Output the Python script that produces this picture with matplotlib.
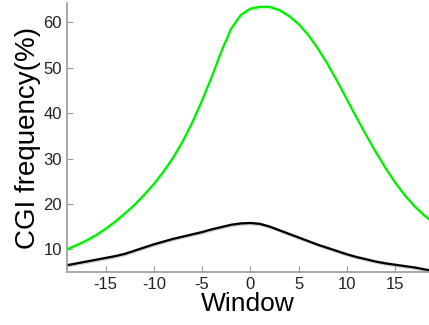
import matplotlib
matplotlib.use("Agg")
import numpy as np
import matplotlib.pyplot as plt

plt.rcParams['font.family'] = ['Liberation Sans', 'DejaVu Sans']

# window positions
window = list(range(-19, 20))

# CGI frequency (%) - green series
green = [10.0, 10.9, 11.9, 13.1, 14.5, 16.1, 17.9, 19.8, 22.0, 24.4,
         27.1, 30.2, 33.8, 38.0, 42.8, 48.0, 53.6, 58.6, 61.6, 63.0,
         63.4, 63.4, 62.7, 61.4, 59.6, 57.2, 54.2, 50.8, 47.0, 43.0,
         39.0, 35.1, 31.4, 27.9, 24.7, 21.9, 19.5, 17.5, 15.8]

# CGI frequency (%) - black series
black = [6.5, 6.9, 7.3, 7.7, 8.1, 8.5, 9.0, 9.7, 10.4, 11.1,
         11.7, 12.3, 12.8, 13.3, 13.8, 14.4, 14.9, 15.4, 15.7, 15.8,
         15.6, 15.0, 14.2, 13.4, 12.6, 11.8, 11.0, 10.3, 9.6, 8.9,
         8.3, 7.8, 7.3, 6.9, 6.6, 6.3, 6.0, 5.6, 5.2]

xticks = [-15, -10, -5, 0, 5, 10, 15]
yticks = [10, 20, 30, 40, 50, 60]

fig = plt.figure(figsize=(4.29, 3.25), dpi=100)
ax = fig.add_axes([0.156, 0.163, 0.844, 0.827])

x = np.array(window)
g = np.array(green)
b = np.array(black)

# thin error bands
ax.fill_between(x, g - 0.5, g + 0.5, color='#00ff00', alpha=0.2, lw=0)
ax.fill_between(x, b - 0.4, b + 0.4, color='black', alpha=0.2, lw=0)
ax.plot(x, g, color='#00ee00', lw=1.6)
ax.plot(x, b, color='black', lw=1.6)

ax.set_xlim(-19, 18.5)
ax.set_ylim(5, 64.2)
ax.set_xticks(xticks)
ax.set_xticklabels([str(t) for t in xticks])
ax.set_yticks(yticks)

for s in ['top', 'right']:
    ax.spines[s].set_visible(False)
for s in ['left', 'bottom']:
    ax.spines[s].set_color('#999999')
    ax.spines[s].set_linewidth(1.2)

ax.tick_params(direction='in', length=4, color='#999999', labelsize=12, labelcolor='#222222')
ax.set_xlabel('Window', fontsize=19, labelpad=0)
ax.set_ylabel('CGI frequency(%)', fontsize=20, labelpad=2)

fig.savefig('out.png', dpi=100)
